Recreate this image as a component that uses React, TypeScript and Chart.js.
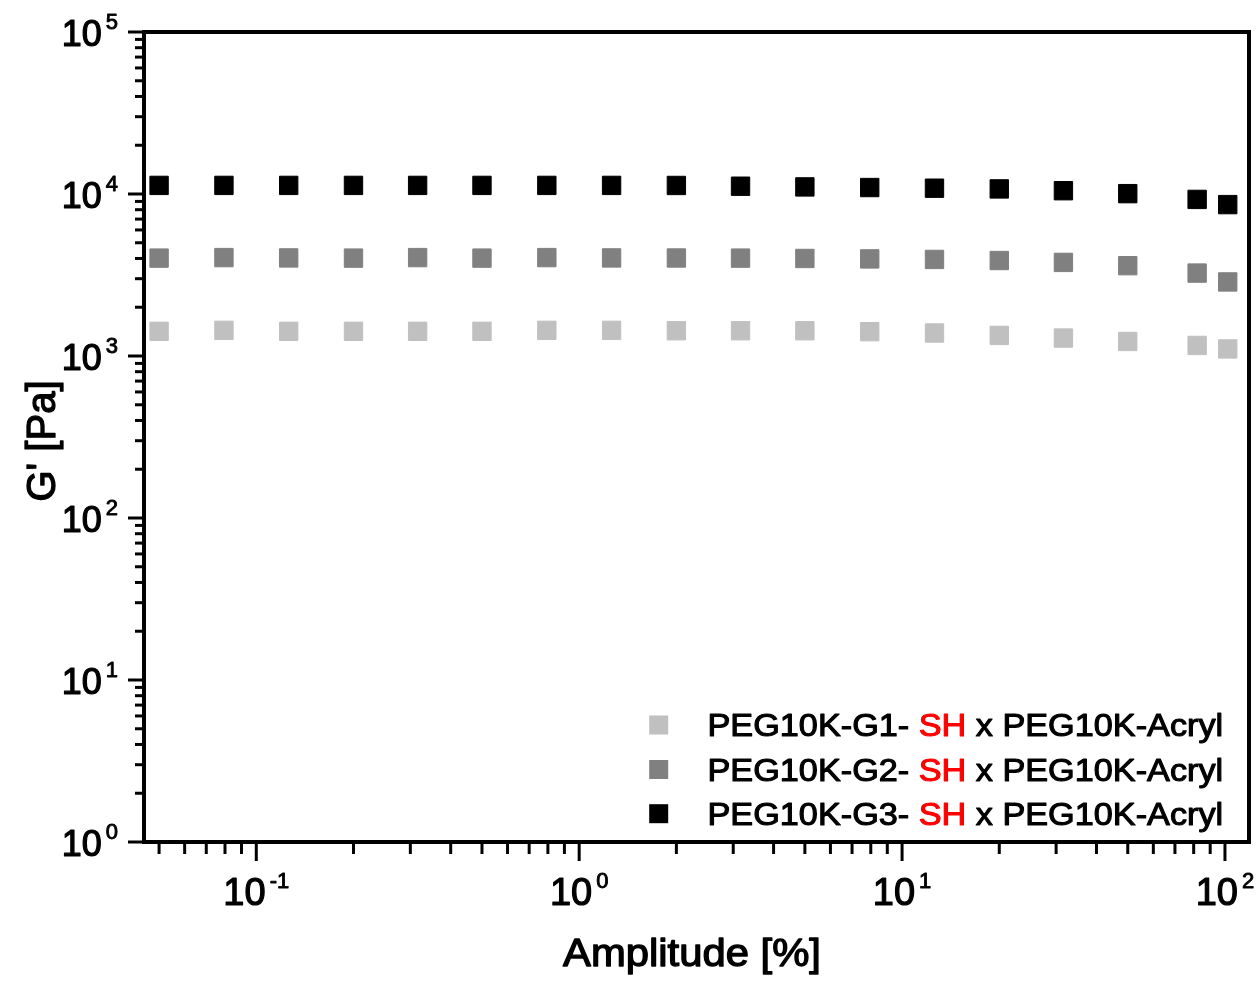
import React, { useEffect, useRef } from "react";
import { Chart, registerables } from "chart.js";

Chart.register(...registerables);

// ---- data ----
const amplitude = [0.05, 0.0794, 0.126, 0.2, 0.316, 0.5, 0.794, 1.26, 2, 3.16, 5, 7.94, 12.6, 20, 31.6, 50, 82, 102];
const g1 = [1420, 1440, 1420, 1420, 1420, 1420, 1440, 1440, 1432, 1432, 1432, 1413, 1387, 1340, 1291, 1230, 1162, 1106];
const g2 = [4020, 4050, 4030, 4020, 4050, 4020, 4050, 4030, 4027, 4020, 4000, 3975, 3945, 3885, 3782, 3610, 3250, 2865];
const g3 = [11300, 11300, 11300, 11300, 11300, 11300, 11300, 11300, 11290, 11170, 11060, 10960, 10860, 10750, 10480, 10050, 9260, 8600];
const seriesNames = ["PEG10K-G1-", "PEG10K-G2-", "PEG10K-G3-"];
const seriesRed = "SH";
const seriesTail = " x PEG10K-Acryl";
const seriesColors = ["#c0c0c0", "#808080", "#000000"];
const yTickExps = [0, 1, 2, 3, 4, 5];
const xTickExps = [-1, 0, 1, 2];
const xTitle = "Amplitude [%]";
const yTitle = "G' [Pa]";

const FONT = "'Liberation Sans', Arial, Helvetica, sans-serif";

function heavyText(ctx: CanvasRenderingContext2D, text: string, x: number, y: number, color: string, weight = 1.2) {
  ctx.fillStyle = color;
  ctx.strokeStyle = color;
  ctx.lineWidth = weight;
  ctx.lineJoin = "round";
  ctx.fillText(text, x, y);
  ctx.strokeText(text, x, y);
}

function drawPow(ctx: CanvasRenderingContext2D, exp: number, x: number, baseline: number, align: "right" | "center", bigSize: number, smallSize: number) {
  const base = "10";
  const sup = String(exp);
  ctx.font = `${bigSize}px ${FONT}`;
  const wb = ctx.measureText(base).width;
  ctx.font = `${smallSize}px ${FONT}`;
  const ws = ctx.measureText(sup).width;
  const gap = 4;
  const total = wb + gap + ws;
  const start = align === "right" ? x - total : x - total / 2;
  ctx.textAlign = "left";
  ctx.textBaseline = "alphabetic";
  ctx.font = `${bigSize}px ${FONT}`;
  heavyText(ctx, base, start, baseline, "#000", 1.2);
  ctx.font = `${smallSize}px ${FONT}`;
  heavyText(ctx, sup, start + wb + gap, baseline - bigSize * 0.46, "#000", 0.9);
}

const axesPlugin = {
  id: "customAxes",
  afterDatasetsDraw(chart: any) {
    const { ctx, chartArea: a, scales } = chart;
    const xs = scales.x;
    const ys = scales.y;
    ctx.save();
    ctx.strokeStyle = "#000";
    ctx.fillStyle = "#000";
    ctx.lineJoin = "miter";
    ctx.lineCap = "butt";

    // frame
    ctx.lineWidth = 4;
    ctx.beginPath();
    ctx.moveTo(a.left, a.top);
    ctx.lineTo(a.right, a.top);
    ctx.lineTo(a.right, a.bottom);
    ctx.lineTo(a.left, a.bottom);
    ctx.closePath();
    ctx.stroke();

    // y ticks
    ctx.lineWidth = 3;
    for (let e = 0; e <= 5; e++) {
      for (let m = 1; m <= 9; m++) {
        const v = m * Math.pow(10, e);
        if (v > ys.max * 1.0001) break;
        const py = ys.getPixelForValue(v);
        const len = m === 1 ? 16 : 9;
        ctx.beginPath();
        ctx.moveTo(a.left - len, py);
        ctx.lineTo(a.left, py);
        ctx.stroke();
      }
    }
    // x ticks
    for (let e = -2; e <= 2; e++) {
      for (let m = 1; m <= 9; m++) {
        const v = m * Math.pow(10, e);
        if (v < xs.min || v > xs.max) continue;
        const px = xs.getPixelForValue(v);
        const len = m === 1 ? 19 : 12;
        ctx.beginPath();
        ctx.moveTo(px, a.bottom);
        ctx.lineTo(px, a.bottom + len);
        ctx.stroke();
      }
    }

    // y tick labels
    for (const e of yTickExps) {
      const py = ys.getPixelForValue(Math.pow(10, e));
      drawPow(ctx, e, 118, py + 14, "right", 36, 22);
    }
    // x tick labels
    for (const e of xTickExps) {
      const px = xs.getPixelForValue(Math.pow(10, e));
      drawPow(ctx, e, px, 905, "center", 38, 22);
    }

    // x title
    ctx.save();
    ctx.font = `38px ${FONT}`;
    ctx.textAlign = "center";
    ctx.textBaseline = "alphabetic";
    ctx.translate(692, 966);
    ctx.scale(1.1, 1);
    heavyText(ctx, xTitle, 0, 0, "#000", 1.3);
    ctx.restore();

    // y title
    ctx.save();
    ctx.font = `40px ${FONT}`;
    ctx.textAlign = "center";
    ctx.textBaseline = "alphabetic";
    ctx.translate(55, 441);
    ctx.rotate(-Math.PI / 2);
    heavyText(ctx, yTitle, 0, 0, "#000", 1.3);
    ctx.restore();

    // legend
    const rowY = [725, 769.5, 813.7];
    chart.data.datasets.forEach((ds: any, i: number) => {
      const cy = rowY[i];
      ctx.fillStyle = ds.backgroundColor;
      ctx.fillRect(658.7 - 9.5, cy - 9.5, 19, 19);
      ctx.save();
      ctx.translate(707.5, cy + 11);
      ctx.scale(1.07, 1);
      ctx.font = `32px ${FONT}`;
      ctx.textAlign = "left";
      ctx.textBaseline = "alphabetic";
      let x = 0;
      heavyText(ctx, seriesNames[i] + " ", x, 0, "#000", 1.1);
      x += ctx.measureText(seriesNames[i] + " ").width;
      heavyText(ctx, seriesRed, x, 0, "#ff0000", 1.1);
      x += ctx.measureText(seriesRed).width;
      heavyText(ctx, seriesTail, x, 0, "#000", 1.1);
      ctx.restore();
    });

    ctx.restore();
  },
};

export default function App() {
  const canvasRef = useRef<HTMLCanvasElement | null>(null);

  useEffect(() => {
    const canvas = canvasRef.current;
    if (!canvas) return;
    const seriesData = [g1, g2, g3];
    const chart = new Chart(canvas, {
      type: "scatter",
      data: {
        datasets: seriesData.map((vals, i) => ({
          label: seriesNames[i] + " " + seriesRed + seriesTail,
          data: amplitude.map((x, k) => ({ x, y: vals[k] })),
          backgroundColor: seriesColors[i],
          borderColor: seriesColors[i],
          pointStyle: "rect",
          pointRadius: 13,
          pointHoverRadius: 13,
          pointBorderWidth: 1,
          showLine: false,
        })),
      },
      options: {
        responsive: false,
        animation: false,
        devicePixelRatio: 1,
        layout: { autoPadding: false, padding: { left: 144, top: 32, right: 9, bottom: 139 } },
        plugins: {
          legend: { display: false },
          tooltip: { enabled: false },
        },
        scales: {
          x: { type: "logarithmic", display: false, min: 0.0449, max: 118.7 },
          y: { type: "logarithmic", display: false, min: 1, max: 100000 },
        },
      },
      plugins: [axesPlugin],
    });
    return () => chart.destroy();
  }, []);

  return (
    <div style={{ position: "absolute", left: 0, top: 0, width: 1258, height: 981, background: "#fff" }}>
      <canvas ref={canvasRef} width={1258} height={981} style={{ display: "block", width: 1258, height: 981 }} />
    </div>
  );
}
